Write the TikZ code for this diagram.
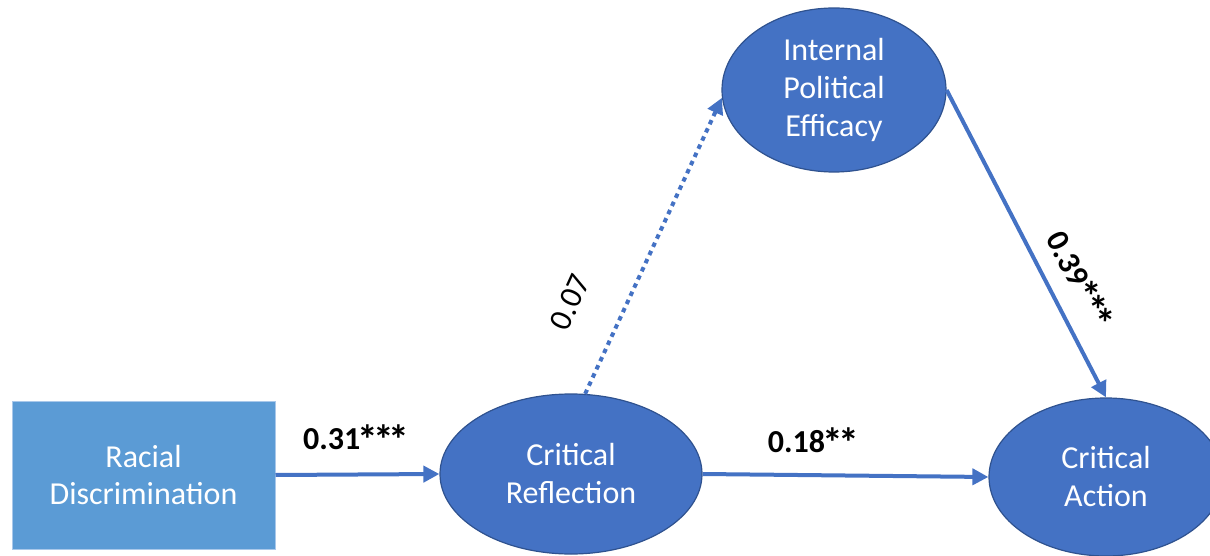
\documentclass[tikz,border=0pt]{standalone}
\usepackage{fontspec}
\setmainfont{Carlito}
\usetikzlibrary{arrows.meta,shapes.geometric}
\definecolor{ovalfill}{HTML}{4472C4}
\definecolor{ovalline}{HTML}{2F528F}
\definecolor{boxfill}{HTML}{5B9BD5}
\definecolor{boxline}{HTML}{A9C8EA}
\definecolor{pathblue}{HTML}{4472C4}
% significance star: enlarged asterisk on a fixed, tight pitch
\newcommand{\sigstar}{\makebox[15.5pt]{\raisebox{-5pt}{\scalebox{1.3}{*}}}}
\tikzset{
  construct/.style={ellipse, fill=ovalfill, draw=ovalline, line width=1.2pt,
    inner sep=0pt, text=white, align=center,
    font=\fontsize{32}{38}\selectfont},
  observed/.style={rectangle, fill=boxfill, draw=boxline, line width=1pt,
    inner sep=0pt, text=white, align=center,
    font=\fontsize{32}{37}\selectfont},
  path/.style={draw=pathblue, line width=4pt,
    -{Triangle[length=16pt,width=16pt]}},
  nspath/.style={path, line cap=butt, dash pattern=on 4.5pt off 4.5pt},
  coef/.style={font=\fontsize{32}{38}\selectfont\bfseries, inner sep=0pt},
  nscoef/.style={font=\fontsize{32}{38}\selectfont, inner sep=0pt}
}
\begin{document}
\begin{tikzpicture}[x=1pt,y=-1pt]
  \useasboundingbox (0,0) rectangle (1210,556);

  % measured and latent variables
  \node[observed, minimum width=263pt, minimum height=148pt] (rd) at (143.5,475)
    {Racial\\Discrimination};
  \node[construct, minimum width=262pt, minimum height=160pt] (cr) at (571,474)
    {Critical\\Reflection};
  \node[construct, minimum width=224pt, minimum height=164pt] (ipe) at (834,90)
    {Internal\\Political\\Efficacy};
  \node[construct, minimum width=234pt, minimum height=158pt] (ca) at (1106,477)
    {Critical\\Action};

  % structural paths
  \draw[path] (rd.east) -- (cr.west);
  \draw[path] (cr.east) -- (ca.west);
  \draw[nspath] (cr.80) -- (ipe.184);
  \draw[path] (ipe.east) -- (ca.north);

  % path coefficients
  \node[coef] (c1) at (355,440) {0.31\sigstar\sigstar\sigstar};
  \node[coef] (c2) at (812,443) {0.18\sigstar\sigstar};
  \node[nscoef, rotate=65.6] (c3) at (570,302) {0.07};
  \node[coef, rotate=-62.5] (c4) at (1078,280) {0.39\sigstar\sigstar\sigstar};
\end{tikzpicture}
\end{document}
